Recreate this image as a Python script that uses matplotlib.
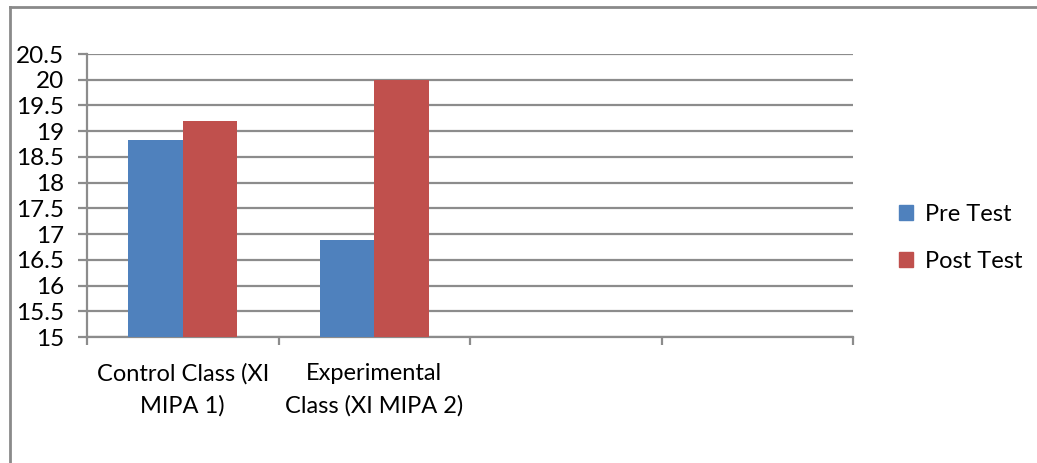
import matplotlib
matplotlib.use("Agg")
import matplotlib.pyplot as plt
import numpy as np
from matplotlib.lines import Line2D
from matplotlib.patches import Patch

plt.rcParams["font.family"] = ["Lato", "DejaVu Sans"]

# Data
categories = ["Control Class (XI\nMIPA 1)", "Experimental\nClass (XI MIPA 2)", "", ""]
pre_test = [18.83, 16.88, np.nan, np.nan]
post_test = [19.2, 20.0, np.nan, np.nan]
y_ticks = np.arange(15, 20.51, 0.5)

blue = "#4F81BD"
red = "#C0504D"
grid_col = "#8C8C8C"

fig = plt.figure(figsize=(10.37, 4.63), dpi=100)
ax = fig.add_axes([87 / 1037, 1 - 337 / 463, (853 - 87) / 1037, (337 - 54) / 463])

x = np.arange(len(categories))
w = 1 / 1.75 / 2
ax.bar(x - w / 2, pre_test, w, color=blue, label="Pre Test", zorder=3)
ax.bar(x + w / 2, post_test, w, color=red, label="Post Test", zorder=3)

ax.set_xlim(-0.5, len(categories) - 0.5)
ax.set_ylim(15, 20.5)
ax.set_yticks(y_ticks)
ax.set_yticklabels([f"{v:g}" for v in y_ticks])
ax.yaxis.grid(True, color=grid_col, linewidth=1.6, zorder=0)

ax.set_xticks(x)
ax.set_xticklabels(categories, fontsize=17, linespacing=1.6)
ax.set_xticks(np.arange(-0.5, len(categories)), minor=True)
ax.tick_params(axis="x", which="major", length=0, pad=19)
ax.tick_params(axis="x", which="minor", length=6, width=1.6, color=grid_col, direction="out")
ax.tick_params(axis="y", length=6.5, width=1.6, color=grid_col, pad=10, labelsize=17.5)

for s in ["top", "right"]:
    ax.spines[s].set_visible(False)
ax.spines["left"].set_color(grid_col)
ax.spines["left"].set_linewidth(1.6)
ax.spines["bottom"].set_color(grid_col)
ax.spines["bottom"].set_linewidth(1.6)

handles = [Patch(color=blue, label="Pre Test"), Patch(color=red, label="Post Test")]
fig.legend(handles=handles, loc="center left", bbox_to_anchor=(878 / 1037, 1 - 238 / 463),
           frameon=False, fontsize=17, handlelength=0.6, handleheight=0.6,
           handletextpad=0.5, labelspacing=1.1)

# outer chart border
fig.add_artist(Line2D([10 / 1037, 10 / 1037], [0, 1 - 7 / 463], color="#8A8A8A", linewidth=2))
fig.add_artist(Line2D([10 / 1037, 1], [1 - 7 / 463, 1 - 7 / 463], color="#8A8A8A", linewidth=2))

fig.savefig("out.png", dpi=100)
